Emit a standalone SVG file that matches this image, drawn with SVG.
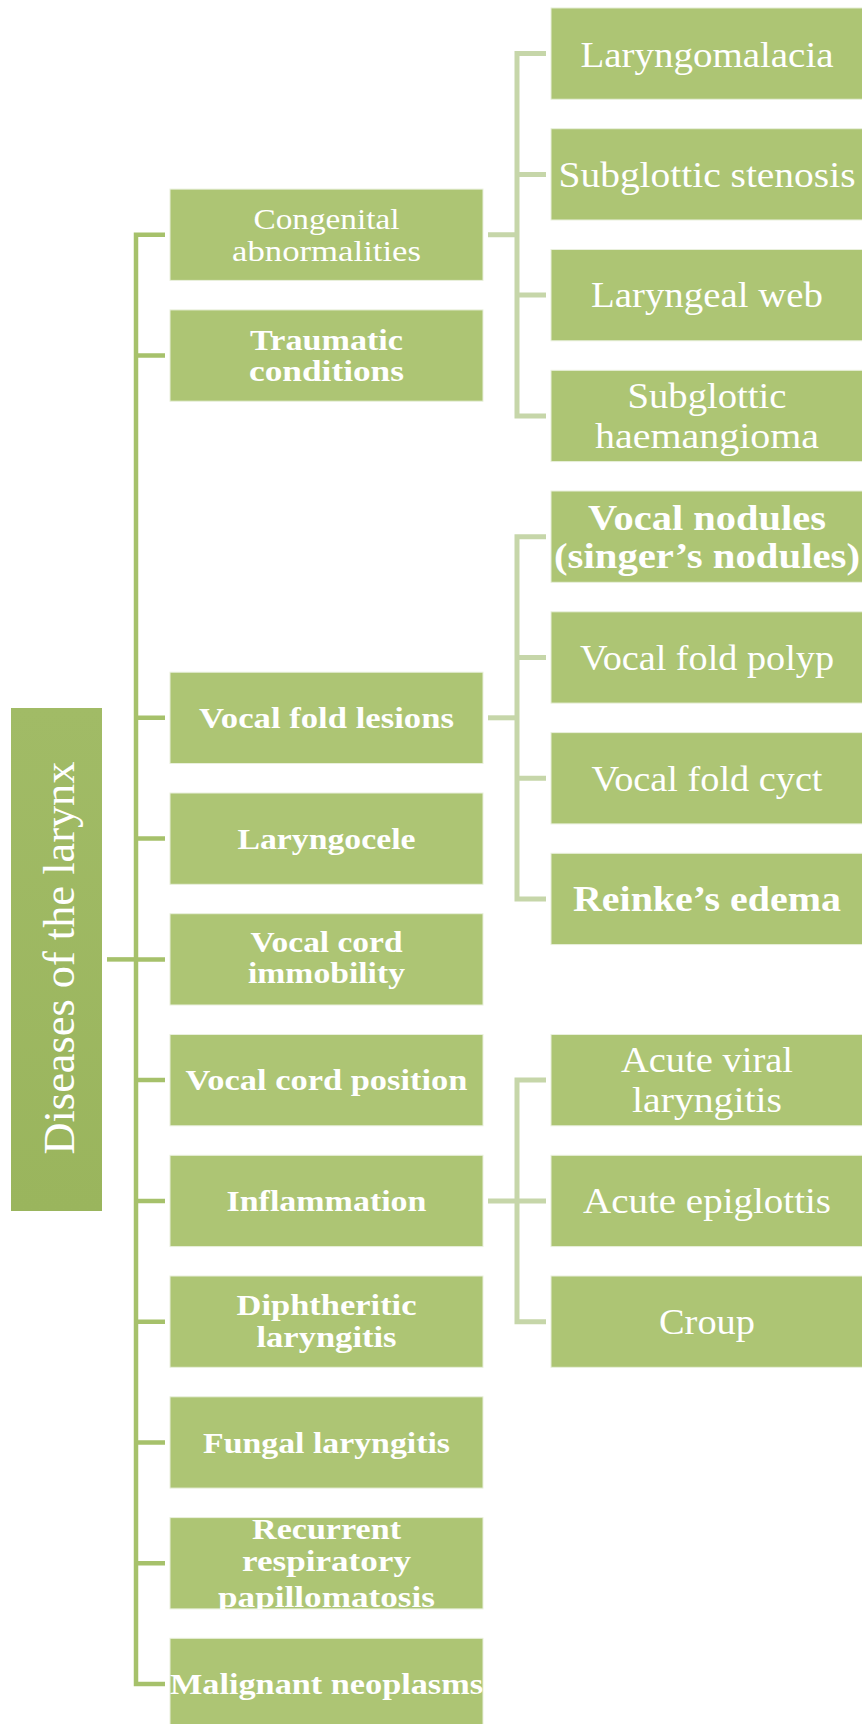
<svg xmlns="http://www.w3.org/2000/svg" width="862" height="1724" viewBox="0 0 862 1724">
<defs>
<style>
.box{fill:#adc574;stroke:#e9f0dc;stroke-width:1}
.t{font-family:"Liberation Serif","Times New Roman",serif;fill:#ffffff;text-anchor:middle}
.m{font-size:29px}
.r{font-size:36px}
.b{font-weight:bold}
.c1{stroke:#a6c16b;stroke-width:4.5;fill:none}
.c2{stroke:#c6d6a9;stroke-width:5;fill:none}
</style>
<linearGradient id="rootGrad" x1="0" y1="0" x2="0" y2="1">
<stop offset="0" stop-color="#a1bb66"/>
<stop offset="1" stop-color="#9ab55d"/>
</linearGradient>
<clipPath id="clipRec"><rect x="170" y="1517.6" width="313" height="91.3"/></clipPath>
</defs>
<rect x="0" y="0" width="862" height="1724" fill="#ffffff"/>

<g id="connectors">
<path class="c1" d="M107,959.4 H136"/>
<path class="c1" d="M165,234.75 H136 V1684 H165"/>
<path class="c1" d="M136,355.5 H165 M136,717.8 H165 M136,838.6 H165 M136,959.4 H165 M136,1080.1 H165 M136,1200.9 H165 M136,1321.7 H165 M136,1442.5 H165 M136,1563.2 H165"/>
<path class="c2" d="M488,234.75 H517"/>
<path class="c2" d="M546,53.6 H517 V415.9 H546 M517,174.4 H546 M517,295.1 H546"/>
<path class="c2" d="M488,717.8 H517"/>
<path class="c2" d="M546,536.7 H517 V899 H546 M517,657.5 H546 M517,778.2 H546"/>
<path class="c2" d="M488,1200.9 H546"/>
<path class="c2" d="M546,1080.1 H517 V1321.7 H546"/>
</g>

<g id="root">
<rect x="11" y="708" width="91" height="503" fill="url(#rootGrad)"/>
<text class="t" font-size="44" transform="translate(74,958) rotate(-90)" x="0" y="0" textLength="393" lengthAdjust="spacingAndGlyphs">Diseases of the larynx</text>
</g>

<g id="congenital">
<rect class="box" x="170" y="189.1" width="313" height="91.3"/>
<text class="t m" x="326.5" y="229.3" textLength="146" lengthAdjust="spacingAndGlyphs">Congenital</text>
<text class="t m" x="326.5" y="260.7" textLength="189" lengthAdjust="spacingAndGlyphs">abnormalities</text>
</g>
<g id="traumatic">
<rect class="box" x="170" y="309.9" width="313" height="91.3"/>
<text class="t m b" x="326.5" y="350" textLength="153" lengthAdjust="spacingAndGlyphs">Traumatic</text>
<text class="t m b" x="326.5" y="381" textLength="155" lengthAdjust="spacingAndGlyphs">conditions</text>
</g>
<g id="vocal-fold-lesions">
<rect class="box" x="170" y="672.2" width="313" height="91.3"/>
<text class="t m b" x="326.5" y="728.3" textLength="255" lengthAdjust="spacingAndGlyphs">Vocal fold lesions</text>
</g>
<g id="laryngocele">
<rect class="box" x="170" y="793" width="313" height="91.3"/>
<text class="t m b" x="326.5" y="849.3" textLength="178" lengthAdjust="spacingAndGlyphs">Laryngocele</text>
</g>
<g id="vocal-cord-immobility">
<rect class="box" x="170" y="913.7" width="313" height="91.3"/>
<text class="t m b" x="326.5" y="951.7" textLength="152" lengthAdjust="spacingAndGlyphs">Vocal cord</text>
<text class="t m b" x="326.5" y="983" textLength="157" lengthAdjust="spacingAndGlyphs">immobility</text>
</g>
<g id="vocal-cord-position">
<rect class="box" x="170" y="1034.5" width="313" height="91.3"/>
<text class="t m b" x="326.5" y="1090" textLength="282" lengthAdjust="spacingAndGlyphs">Vocal cord position</text>
</g>
<g id="inflammation">
<rect class="box" x="170" y="1155.3" width="313" height="91.3"/>
<text class="t m b" x="326.5" y="1210.7" textLength="200" lengthAdjust="spacingAndGlyphs">Inflammation</text>
</g>
<g id="diphtheritic-laryngitis">
<rect class="box" x="170" y="1276" width="313" height="91.3"/>
<text class="t m b" x="326.5" y="1314.5" textLength="180" lengthAdjust="spacingAndGlyphs">Diphtheritic</text>
<text class="t m b" x="326.5" y="1347" textLength="140" lengthAdjust="spacingAndGlyphs">laryngitis</text>
</g>
<g id="fungal-laryngitis">
<rect class="box" x="170" y="1396.8" width="313" height="91.3"/>
<text class="t m b" x="326.5" y="1452.7" textLength="247" lengthAdjust="spacingAndGlyphs">Fungal laryngitis</text>
</g>
<g id="recurrent-respiratory-papillomatosis">
<rect class="box" x="170" y="1517.6" width="313" height="91.3"/>
<g clip-path="url(#clipRec)">
<text class="t m b" x="326.5" y="1539.3" textLength="149" lengthAdjust="spacingAndGlyphs">Recurrent</text>
<text class="t m b" x="326.5" y="1571" textLength="169" lengthAdjust="spacingAndGlyphs">respiratory</text>
<text class="t m b" x="326.5" y="1606.7" textLength="217" lengthAdjust="spacingAndGlyphs">papillomatosis</text>
</g>
</g>
<g id="malignant-neoplasms">
<rect class="box" x="170" y="1638.3" width="313" height="91.3"/>
<text class="t m b" x="326.5" y="1693.5" textLength="313" lengthAdjust="spacingAndGlyphs">Malignant neoplasms</text>
</g>

<g id="laryngomalacia">
<rect class="box" x="551" y="7.95" width="313" height="91.3"/>
<text class="t r" x="707" y="66.7" textLength="253" lengthAdjust="spacingAndGlyphs">Laryngomalacia</text>
</g>
<g id="subglottic-stenosis">
<rect class="box" x="551" y="128.7" width="313" height="91.3"/>
<text class="t r" x="707" y="187" textLength="297" lengthAdjust="spacingAndGlyphs">Subglottic stenosis</text>
</g>
<g id="laryngeal-web">
<rect class="box" x="551" y="249.5" width="313" height="91.3"/>
<text class="t r" x="707" y="307" textLength="232" lengthAdjust="spacingAndGlyphs">Laryngeal web</text>
</g>
<g id="subglottic-haemangioma">
<rect class="box" x="551" y="370.3" width="313" height="91.3"/>
<text class="t r" x="707" y="408.3" textLength="159" lengthAdjust="spacingAndGlyphs">Subglottic</text>
<text class="t r" x="707" y="448.3" textLength="224" lengthAdjust="spacingAndGlyphs">haemangioma</text>
</g>
<g id="vocal-nodules">
<rect class="box" x="551" y="491" width="313" height="91.3"/>
<text class="t r b" x="707" y="530" textLength="238" lengthAdjust="spacingAndGlyphs">Vocal nodules</text>
<text class="t r b" x="707" y="567.5" textLength="306" lengthAdjust="spacingAndGlyphs">(singer’s nodules)</text>
</g>
<g id="vocal-fold-polyp">
<rect class="box" x="551" y="611.8" width="313" height="91.3"/>
<text class="t r" x="707" y="670.2" textLength="254" lengthAdjust="spacingAndGlyphs">Vocal fold polyp</text>
</g>
<g id="vocal-fold-cyct">
<rect class="box" x="551" y="732.6" width="313" height="91.3"/>
<text class="t r" x="707" y="790.5" textLength="231" lengthAdjust="spacingAndGlyphs">Vocal fold cyct</text>
</g>
<g id="reinkes-edema">
<rect class="box" x="551" y="853.3" width="313" height="91.3"/>
<text class="t r b" x="707" y="911" textLength="268" lengthAdjust="spacingAndGlyphs">Reinke’s edema</text>
</g>
<g id="acute-viral-laryngitis">
<rect class="box" x="551" y="1034.5" width="313" height="91.3"/>
<text class="t r" x="707" y="1071.7" textLength="172" lengthAdjust="spacingAndGlyphs">Acute viral</text>
<text class="t r" x="707" y="1111.7" textLength="150" lengthAdjust="spacingAndGlyphs">laryngitis</text>
</g>
<g id="acute-epiglottis">
<rect class="box" x="551" y="1155.3" width="313" height="91.3"/>
<text class="t r" x="707" y="1212.8" textLength="248" lengthAdjust="spacingAndGlyphs">Acute epiglottis</text>
</g>
<g id="croup">
<rect class="box" x="551" y="1276" width="313" height="91.3"/>
<text class="t r" x="707" y="1334" textLength="96" lengthAdjust="spacingAndGlyphs">Croup</text>
</g>
</svg>
